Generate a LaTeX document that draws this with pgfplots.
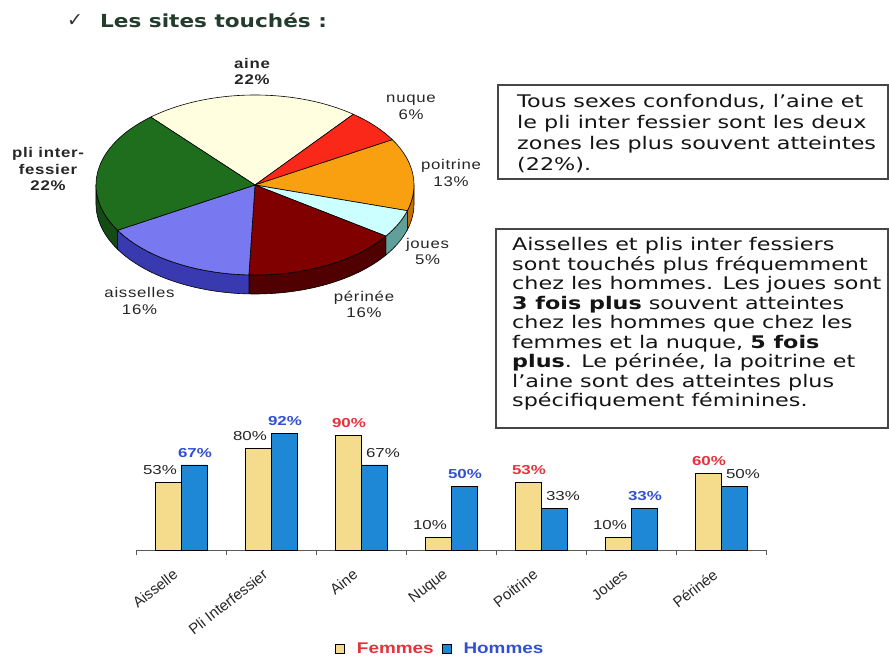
\documentclass[border=0pt]{standalone}
\usepackage{pgfplots}
\pgfplotsset{compat=1.18}
\usepackage{fontspec}
\setmainfont{Liberation Sans}
\newfontfamily\titlef[FakeStretch=1.2]{DejaVu Sans}
\newfontfamily\boxf[FakeStretch=1.28]{DejaVu Sans}
\newfontfamily\symf{DejaVu Sans}
\newfontfamily\pief[FakeStretch=1.2,LetterSpace=5]{Liberation Sans}
\newfontfamily\barf[FakeStretch=1.3]{Liberation Sans}
\newfontfamily\catf{Liberation Sans}
\newfontfamily\legf[FakeStretch=1.22]{Liberation Sans}

\definecolor{titlecol}{RGB}{35,60,45}
\definecolor{cAine}{RGB}{255,255,224}
\definecolor{cNuque}{RGB}{250,40,25}
\definecolor{cPoit}{RGB}{248,160,16}
\definecolor{cPoitS}{RGB}{200,110,0}
\definecolor{cJoues}{RGB}{204,255,255}
\definecolor{cJouesS}{RGB}{95,160,155}
\definecolor{cPeri}{RGB}{128,0,0}
\definecolor{cPeriS}{RGB}{80,0,0}
\definecolor{cAiss}{RGB}{120,120,240}
\definecolor{cAissS}{RGB}{58,58,176}
\definecolor{cPli}{RGB}{30,110,30}
\definecolor{cPliS}{RGB}{20,74,20}
\definecolor{femfill}{RGB}{245,220,140}
\definecolor{homfill}{RGB}{30,136,214}
\definecolor{femred}{RGB}{230,50,60}
\definecolor{homblue}{RGB}{50,80,210}
\definecolor{boxline}{RGB}{70,70,70}

\newcommand\pieslice[3]{\filldraw[fill=#3, draw=black, line width=0.6pt] (axis cs:0,0) -- (axis cs:{159*cos(#1)},{90*sin(#1)}) arc[start angle=#1, end angle=#2, x radius=159pt, y radius=90pt] -- cycle;}
\newcommand\pieside[3]{\filldraw[fill=#3, draw=black, line width=0.6pt] (axis cs:{159*cos(#1)},{90*sin(#1)}) arc[start angle=#1, end angle=#2, x radius=159pt, y radius=90pt] -- ++(0pt,-19pt) arc[start angle=#2, end angle=#1, x radius=159pt, y radius=90pt] -- cycle;}

\pgfplotsset{sqlegend/.style={legend image code/.code={\draw[##1, draw=black, line width=0.8pt] (0pt,-4.5pt) rectangle (9pt,4.5pt);}}}

\begin{document}
\begin{tikzpicture}
\path[use as bounding box] (0pt,0pt) rectangle (889pt,659pt);

% ---- title
\node[inner sep=0pt, text=black!80, font=\symf\fontsize{19}{21}\selectfont] at (75pt,638pt) {✓};
\node[anchor=west, inner sep=0pt, text=titlecol, font=\titlef\bfseries\fontsize{18}{21}\selectfont] at (100pt,639pt) {Les sites touchés :};

% ---- pie data (percent)
\def\vAine{22}\def\vNuque{6}\def\vPoit{13}\def\vJoues{5}\def\vPeri{16}\def\vAiss{16}\def\vPli{22}
\pgfmathsetmacro\aA{131}
\pgfmathsetmacro\aB{\aA-3.6*\vAine}
\pgfmathsetmacro\aC{\aB-3.6*\vNuque}
\pgfmathsetmacro\aD{\aC-3.6*\vPoit}
\pgfmathsetmacro\aE{\aD-3.6*\vJoues}
\pgfmathsetmacro\aF{\aE-3.6*\vPeri}
\pgfmathsetmacro\aG{\aF-3.6*\vAiss}
\pgfmathsetmacro\aH{\aG-3.6*\vPli}

\begin{axis}[
  at={(95pt,362pt)}, anchor=south west,
  x=1pt, y=1pt, disabledatascaling,
  xmin=-160, xmax=160, ymin=-112, ymax=92,
  hide axis, clip=false,
]
% sides (front half)
\pieside{0}{\aD}{cPoitS}
\pieside{\aD}{\aE}{cJouesS}
\pieside{\aE}{\aF}{cPeriS}
\pieside{\aF}{\aG}{cAissS}
\pieside{\aG}{-180}{cPliS}
% top faces
\pieslice{\aA}{\aB}{cAine}
\pieslice{\aB}{\aC}{cNuque}
\pieslice{\aC}{\aD}{cPoit}
\pieslice{\aD}{\aE}{cJoues}
\pieslice{\aE}{\aF}{cPeri}
\pieslice{\aF}{\aG}{cAiss}
\pieslice{\aG}{\aH}{cPli}
% labels
\begin{scope}[every node/.style={align=center, inner sep=0pt, text=black!85, font=\pief\fontsize{14}{16.5}\selectfont}]
\node at (axis cs:-3,113.5) {\bfseries aine\\\bfseries \vAine\%};
\node at (axis cs:156,77.5) {nuque\\\vNuque\%};
\node at (axis cs:196,12) {poitrine\\\vPoit\%};
\node at (axis cs:172.5,-66.5) {joues\\\vJoues\%};
\node at (axis cs:109,-119.5) {périnée\\\vPeri\%};
\node at (axis cs:-115.5,-116) {aisselles\\\vAiss\%};
\node at (axis cs:-207,16) {\bfseries pli inter-\\\bfseries fessier\\\bfseries \vPli\%};
\end{scope}
\end{axis}

% ---- text boxes
\draw[boxline, line width=1.2pt] (498pt,574pt) rectangle (888pt,480pt);
\draw[boxline, line width=1.2pt] (496pt,430pt) rectangle (888pt,231pt);
\begin{scope}[every node/.style={anchor=base west, inner sep=0pt, text=black!92, font=\boxf\fontsize{17.4}{20}\selectfont}]
\node at (517pt,551pt) {Tous sexes confondus, l’aine et};
\node at (517pt,530pt) {le pli inter fessier sont les deux};
\node at (517pt,509pt) {zones les plus souvent atteintes};
\node at (517pt,488pt) {(22\%).};
\node at (512pt,408pt) {Aisselles et plis inter fessiers};
\node at (512pt,388.5pt) {sont touchés plus fréquemment};
\node at (512pt,369pt) {chez les hommes. Les joues sont};
\node at (512pt,349.5pt) {\textbf{3 fois plus} souvent atteintes};
\node at (512pt,330pt) {chez les hommes que chez les};
\node at (512pt,310.5pt) {femmes et la nuque, \textbf{5 fois}};
\node at (512pt,291pt) {\textbf{plus}. Le périnée, la poitrine et};
\node at (512pt,271.5pt) {l’aine sont des atteintes plus};
\node at (512pt,252pt) {spécifiquement féminines.};
\end{scope}

% ---- bar chart
\begin{axis}[
  at={(136pt,109pt)}, anchor=south west,
  scale only axis, width=630pt, height=127pt,
  xmin=-0.5, xmax=6.5, ymin=0, ymax=100,
  axis y line=none, axis x line*=bottom,
  axis line style={draw=gray!70!black, line width=0.8pt},
  ybar, bar width=26pt,
  xtick={0,...,6},
  xticklabels={Aisselle, Pli Interfessier, Aine, Nuque, Poitrine, Joues, Périnée},
  major tick length=0pt,
  minor xtick={-0.5,0.5,...,6.5}, minor tick length=5pt, tick align=outside,
  tick style={draw=gray!70!black, line width=0.6pt},
  xticklabel style={font=\catf\fontsize{15}{17}\selectfont, text=black!85, xshift=-9pt, yshift=-18pt, rotate=38, anchor=north east, inner sep=0pt},
  clip=false,
  point meta=y,
  nodes near coords={\pgfmathprintnumber{\pgfplotspointmeta}\%},
  /pgf/number format/assume math mode=true,
  every node near coord/.append style={font=\barf\fontsize{13}{15}\selectfont, yshift=4pt},
  legend style={at={(0.483,-0.78)}, anchor=center, draw=none, fill=none,
    legend columns=2, font=\legf\bfseries\fontsize{15.5}{18}\selectfont,
    /tikz/every odd column/.append style={column sep=10pt},
    /tikz/every even column/.append style={column sep=6pt}},
]
\addplot[fill=femfill, draw=black, line width=0.8pt, bar shift=-13pt, sqlegend,
  every node near coord/.append style={text=black!85, xshift=-8pt}]
  coordinates {(0,53) (1,80) (3,10) (5,10)};
\addlegendentry{\textcolor{femred}{Femmes}}
\addplot[forget plot, fill=femfill, draw=black, line width=0.8pt, bar shift=-13pt,
  every node near coord/.append style={text=femred, font=\barf\bfseries\fontsize{13}{15}\selectfont, xshift=1pt}]
  coordinates {(2,90) (4,53) (6,60)};
\addplot[fill=homfill, draw=black, line width=0.8pt, bar shift=13pt, sqlegend,
  every node near coord/.append style={text=homblue, font=\barf\bfseries\fontsize{13}{15}\selectfont, xshift=1pt}]
  coordinates {(0,67) (1,92) (3,50) (5,33)};
\addlegendentry{\textcolor{homblue}{Hommes}}
\addplot[forget plot, fill=homfill, draw=black, line width=0.8pt, bar shift=13pt,
  every node near coord/.append style={text=black!85, xshift=9pt}]
  coordinates {(2,67) (4,33) (6,50)};
\end{axis}
\end{tikzpicture}
\end{document}
